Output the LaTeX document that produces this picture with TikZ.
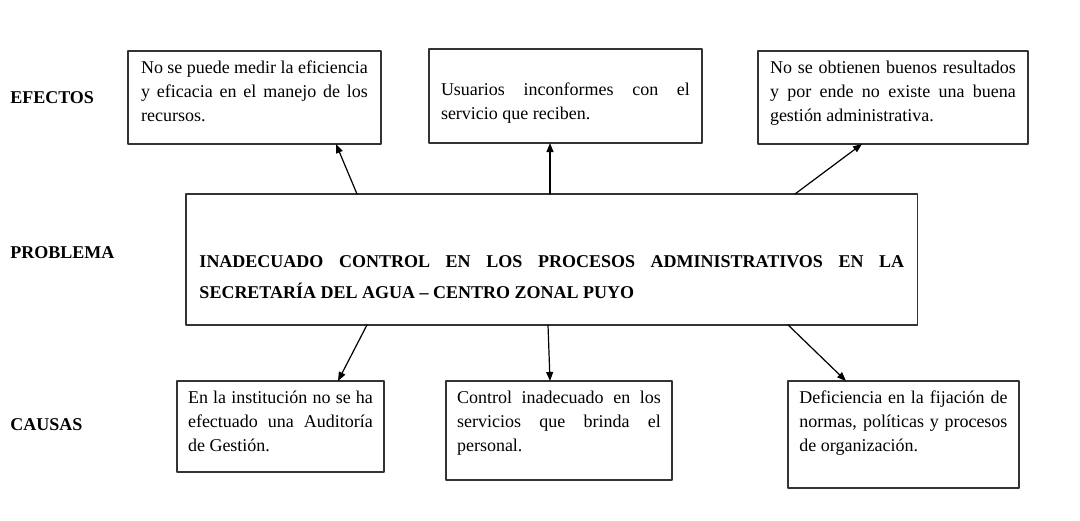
\documentclass[tikz,border=0pt]{standalone}
\usepackage{fontspec}
\setmainfont{Liberation Serif}
\usetikzlibrary{arrows.meta}
\hyphenpenalty=10000
\exhyphenpenalty=10000

\begin{document}
\begin{tikzpicture}[
    x=0.02343cm,
    y=-0.02343cm,
    line cap=round,
    line join=round,
    box/.style={draw=black!80, line width=0.8pt, anchor=north west, inner sep=0pt, outer sep=0pt, align=justify, text height=15pt, font=\fontsize{12pt}{16pt}\selectfont},
    probbox/.style={box, text height=48.7pt, font=\bfseries\fontsize{12pt}{20.7pt}\selectfont},
    tag/.style={anchor=west, inner sep=0pt, font=\bfseries\fontsize{12pt}{14pt}\selectfont},
    link/.style={draw=black, line width=0.8pt, -{Triangle[length=6pt,width=4.6pt]}},
  ]

  \useasboundingbox (0,0) rectangle (1080,521);

  % Row labels
  \node[tag] (tEf) at (10,98) {EFECTOS};
  \node[tag] (tPr) at (10,253) {PROBLEMA};
  \node[tag] (tCa) at (10,425) {CAUSAS};

  % Effects
  \node[box, minimum width=168.7pt, text width=151.3pt, text depth=47pt] (ef1) at (128,51)
    {No se puede medir la eficiencia\linebreak y eficacia en el manejo de los\linebreak recursos.};
  \node[box, minimum width=182pt, text width=166pt, text depth=47.7pt] (ef2) at (429,49)
    {\mbox{}\\ Usuarios inconformes con el\linebreak servicio que reciben.};
  \node[box, minimum width=180pt, text width=164pt, text depth=47pt] (ef3) at (758,51)
    {No se obtienen buenos resultados\linebreak y por ende no existe una buena\linebreak gestión administrativa.};

  % Problem
  \node[probbox, minimum width=488pt, text width=470pt, text depth=38.6pt] (prob) at (186,194)
    {INADECUADO CONTROL EN LOS PROCESOS ADMINISTRATIVOS EN LA\linebreak SECRETARÍA DEL AGUA – CENTRO ZONAL PUYO};

  % Causes
  \node[box, minimum width=138pt, text width=123.3pt, text depth=45.7pt] (ca1) at (177,381)
    {En la institución no se ha\linebreak efectuado una Auditoría\linebreak de Gestión.};
  \node[box, minimum width=150.7pt, text width=136pt, text depth=51pt] (ca2) at (446,381)
    {Control inadecuado en los\linebreak servicios que brinda el\linebreak personal.};
  \node[box, minimum width=154pt, text width=138.7pt, text depth=56.3pt] (ca3) at (788,381)
    {Deficiencia en la fijación de\linebreak normas, políticas y procesos\linebreak de organización.};

  % Arrows up to the effects
  \foreach \a/\b/\n in {171/208/1, 364/121/2, 609/104/3}
    \draw[link] ([shift={(\a,0)}]prob.north west) -- ([shift={(\b,0)}]ef\n.south west);

  % Arrows down to the causes
  \foreach \a/\b/\n in {181/161/1, 362/104/2, 602/58/3}
    \draw[link] ([shift={(\a,0)}]prob.south west) -- ([shift={(\b,0)}]ca\n.north west);

\end{tikzpicture}
\end{document}
